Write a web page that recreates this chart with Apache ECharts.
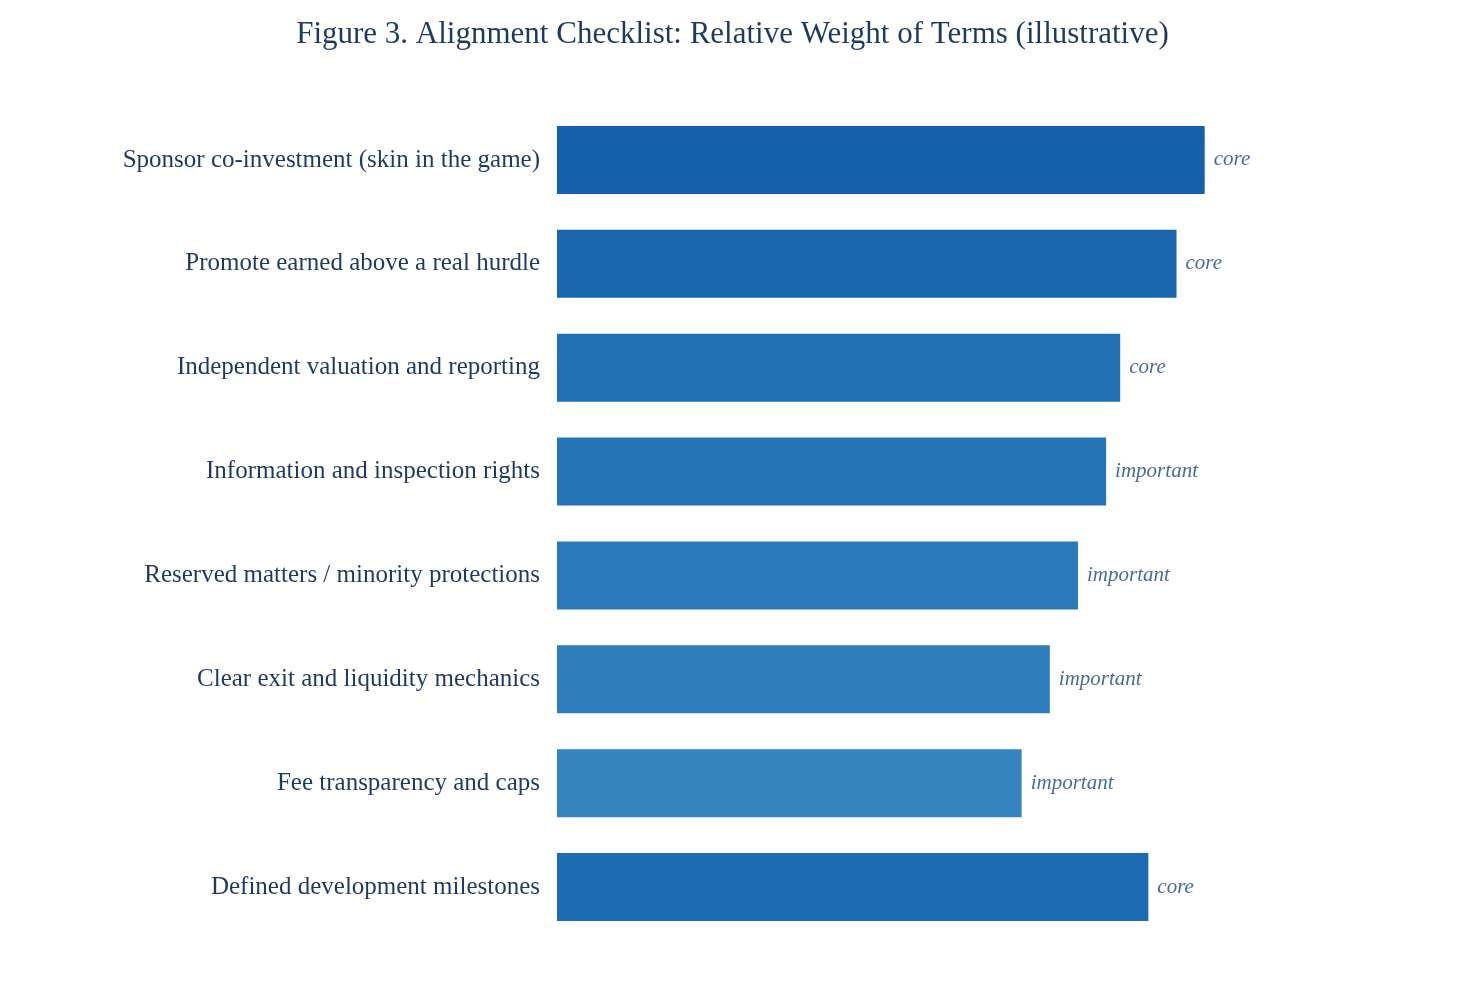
<!DOCTYPE html>
<html><head><meta charset="utf-8">
<script src="https://cdn.jsdelivr.net/npm/echarts@6/dist/echarts.min.js"></script>
<style>html,body{margin:0;padding:0;background:#fff}#c{width:1465px;height:991px}</style>
</head><body><div id="c"></div>
<script>
const categories = ["Sponsor co-investment (skin in the game)","Promote earned above a real hurdle","Independent valuation and reporting","Information and inspection rights","Reserved matters / minority protections","Clear exit and liquidity mechanics","Fee transparency and caps","Defined development milestones"];
const values = [92,88,80,78,74,70,66,84];
const tiers = ["core","core","core","important","important","important","important","core"];
const colors = ["#1560aa","#1a66ac","#2070b3","#2574b6","#2a79b8","#2e7dba","#3584bf","#1d6bb0"];
const chart = echarts.init(document.getElementById('c'));
chart.setOption({
  animation:false,
  title:{text:"Figure 3. Alignment Checklist: Relative Weight of Terms (illustrative)",left:'center',top:14,
    textStyle:{fontFamily:'Liberation Serif',fontSize:31,fontWeight:'normal',color:'#1f3a5f'}},
  grid:{left:557,right:204,top:108,bottom:52},
  xAxis:{type:'value',min:0,max:100,show:false},
  yAxis:{type:'category',inverse:true,data:categories,axisLine:{show:false},axisTick:{show:false},
    axisLabel:{fontFamily:'Liberation Serif',fontSize:25,color:'#1f3a5f',margin:17}},
  series:[{type:'bar',barWidth:68,
    data:values.map((v,i)=>({value:v,itemStyle:{color:colors[i]},
      label:{formatter:tiers[i]}})),
    label:{show:true,position:'right',distance:9,fontFamily:'Liberation Serif',fontStyle:'italic',fontSize:21,color:'#4a6b9a'}}]
});
</script></body></html>
